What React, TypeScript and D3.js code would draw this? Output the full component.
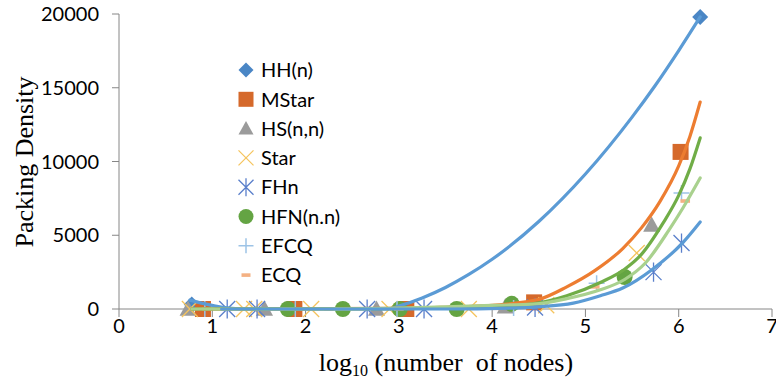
import { useEffect, useRef } from "react";
import * as d3 from "d3";

const W = 776;
const H = 385;

const xTicks = [0, 1, 2, 3, 4, 5, 6, 7];
const yTicks = [0, 5000, 10000, 15000, 20000];

// scatter values: [log10(nodes), packing density]
const hhPoints = [[0.78, 300], [6.23, 19800]];
const mstarPoints = [[0.9, 0], [1.88, 0], [3.08, 0], [4.45, 450], [6.02, 10650]];
const hsPoints = [[0.74, 0], [1.56, 0], [2.76, 0], [4.14, 150], [5.71, 5700]];
const starPoints = [[0.76, 0], [1.34, 0], [1.45, 0], [2.06, 0], [2.9, 0], [3.75, 0], [4.58, 250], [5.55, 3800]];
const fhnPoints = [[1.16, 0], [1.48, 0], [2.66, 0], [3.27, 0], [4.46, 100], [5.73, 2500], [6.03, 4470]];
const hfnPoints = [[1.81, 0], [2.4, 0], [3.01, 0], [3.62, 0], [4.21, 350], [5.42, 2170]];
const efcqPoints = [[0.92, 0], [1.89, 0], [2.98, 0], [4.23, 60], [5.12, 1750], [6.03, 7860]];
const ecqPoints = [[0.94, 0], [1.55, 0], [2.25, 0], [3.0, 0], [4.05, 50], [5.1, 1500], [6.07, 7320]];

// trend lines
const hhTrend = [[0.76, 600], [0.9, 380], [1.05, 180], [1.25, 20], [1.4, 0], [2.88, 0], [3.0, 200], [3.25, 750], [3.5, 1460], [3.75, 2340], [4.0, 3370], [4.5, 5930], [5.0, 9150], [5.5, 13010], [5.75, 15170], [6.0, 17520], [6.23, 19800]];
const mstarTrend = [[0.78, 0], [3.0, 40], [3.5, 120], [4.0, 250], [4.5, 650], [4.8, 1500], [5.1, 2600], [5.4, 4100], [5.6, 5500], [5.8, 7300], [6.0, 9700], [6.12, 11700], [6.23, 14030]];
const hfnTrend = [[0.78, 0], [3.0, 30], [3.5, 80], [4.0, 150], [4.44, 350], [4.8, 900], [5.16, 1800], [5.42, 2700], [5.6, 3700], [5.83, 5800], [6.0, 7700], [6.12, 9500], [6.23, 11600]];
const lightTrend = [[0.78, 0], [2.0, 0], [3.0, 60], [3.5, 150], [4.0, 250], [4.44, 330], [4.8, 700], [5.16, 1300], [5.42, 2000], [5.64, 3100], [5.9, 5400], [6.05, 6900], [6.23, 8880]];
const fhnTrend = [[1.1, 0], [3.5, 0], [4.2, 60], [4.5, 150], [4.87, 400], [5.16, 900], [5.4, 1420], [5.72, 2700], [6.04, 4470], [6.23, 5900]];

const legendNames = ["HH(n)", "MStar", "HS(n,n)", "Star", "FHn", "HFN(n.n)", "EFCQ", "ECQ"];

type Mark = "diamond" | "square" | "triangle" | "x" | "asterisk" | "circle" | "plus" | "dash";

const series: { points: number[][]; mark: Mark; color: string }[] = [
  { points: hhPoints, mark: "diamond", color: "#4a86c5" },
  { points: mstarPoints, mark: "square", color: "#d5692b" },
  { points: hsPoints, mark: "triangle", color: "#9b9b9b" },
  { points: starPoints, mark: "x", color: "#f5c45e" },
  { points: fhnPoints, mark: "asterisk", color: "#5a7fcb" },
  { points: hfnPoints, mark: "circle", color: "#64a443" },
  { points: efcqPoints, mark: "plus", color: "#9dc3e6" },
  { points: ecqPoints, mark: "dash", color: "#f4b183" },
];

const trends = [
  { points: hhTrend, color: "#5b9bd5" },
  { points: mstarTrend, color: "#ed7d31" },
  { points: hfnTrend, color: "#70ad47" },
  { points: lightTrend, color: "#a9d18e" },
  { points: fhnTrend, color: "#5b9bd5" },
];

function drawMark(g: d3.Selection<SVGGElement, unknown, null, undefined>, mark: Mark, color: string, s: number) {
  if (mark === "diamond") {
    g.append("path").attr("d", `M0,${-s}L${s},0L0,${s}L${-s},0Z`).attr("fill", color);
  } else if (mark === "square") {
    g.append("rect").attr("x", -s).attr("y", -s).attr("width", 2 * s).attr("height", 2 * s).attr("fill", color);
  } else if (mark === "triangle") {
    g.append("path").attr("d", `M0,${-s}L${s},${s * 0.8}L${-s},${s * 0.8}Z`).attr("fill", color);
  } else if (mark === "circle") {
    g.append("circle").attr("r", s).attr("fill", color);
  } else if (mark === "x") {
    g.append("path").attr("d", `M${-s},${-s}L${s},${s}M${-s},${s}L${s},${-s}`).attr("stroke", color).attr("stroke-width", 1.3);
  } else if (mark === "asterisk") {
    g.append("path").attr("d", `M${-s},${-s}L${s},${s}M${-s},${s}L${s},${-s}M0,${-s * 1.2}L0,${s * 1.2}`).attr("stroke", color).attr("stroke-width", 1.3);
  } else if (mark === "plus") {
    g.append("path").attr("d", `M${-s},0L${s},0M0,${-s}L0,${s}`).attr("stroke", color).attr("stroke-width", 1.5);
  } else {
    g.append("rect").attr("x", -s * 0.6).attr("y", -1.8).attr("width", s * 1.2).attr("height", 3.6).attr("fill", color);
  }
}

const markSize: Record<Mark, number> = { diamond: 8, square: 8, triangle: 8.5, x: 8, asterisk: 8, circle: 8, plus: 8, dash: 8 };

export default function App() {
  const svgRef = useRef<SVGSVGElement>(null);

  useEffect(() => {
    const svg = d3.select(svgRef.current);
    svg.selectAll("*").remove();

    const x = d3.scaleLinear().domain([0, 7]).range([119, 772]);
    const y = d3.scaleLinear().domain([0, 20000]).range([309, 14]);

    const axisColor = "#868686";
    const sans = "Lato, 'Open Sans', sans-serif";

    // axes
    svg.append("line").attr("x1", x(0)).attr("x2", x(0)).attr("y1", y(20000)).attr("y2", y(0)).attr("stroke", axisColor);
    svg.append("line").attr("x1", x(0)).attr("x2", x(7)).attr("y1", y(0)).attr("y2", y(0)).attr("stroke", axisColor);
    svg.append("g").selectAll("line").data(yTicks).join("line")
      .attr("x1", x(0) - 7).attr("x2", x(0)).attr("y1", (d) => y(d)).attr("y2", (d) => y(d)).attr("stroke", axisColor);
    svg.append("g").selectAll("line").data(xTicks).join("line")
      .attr("x1", (d) => x(d)).attr("x2", (d) => x(d)).attr("y1", y(0)).attr("y2", y(0) + 8).attr("stroke", axisColor);

    svg.append("g").selectAll("text").data(yTicks).join("text")
      .attr("x", 99).attr("y", (d) => y(d)).attr("dy", "0.36em").attr("text-anchor", "end")
      .attr("font-family", sans).attr("font-size", 20).attr("fill", "#000").text((d) => d);
    svg.append("g").selectAll("text").data(xTicks).join("text")
      .attr("x", (d) => x(d)).attr("y", 333).attr("text-anchor", "middle")
      .attr("font-family", sans).attr("font-size", 20).attr("fill", "#000").text((d) => d);

    // markers
    series.forEach((s) => {
      s.points.forEach(([px, py]) => {
        const g = svg.append("g").attr("transform", `translate(${x(px)},${y(py)})`);
        drawMark(g, s.mark, s.color, markSize[s.mark]);
      });
    });

    // trend lines
    const line = d3.line<number[]>().x((d) => x(d[0])).y((d) => y(d[1])).curve(d3.curveMonotoneX);
    trends.forEach((t) => {
      svg.append("path").attr("d", line(t.points)).attr("fill", "none").attr("stroke", t.color)
        .attr("stroke-width", 3.2).attr("stroke-linecap", "round");
    });

    // legend
    legendNames.forEach((name, i) => {
      const ly = 70 + i * 29.3;
      const g = svg.append("g").attr("transform", `translate(246,${ly})`);
      drawMark(g, series[i].mark, series[i].color, 7.5);
      svg.append("text").attr("x", 261).attr("y", ly).attr("dy", "0.36em")
        .attr("font-family", sans).attr("font-size", 20).attr("fill", "#000").text(name);
    });

    // axis titles
    const serif = "'Liberation Serif', 'Times New Roman', serif";
    svg.append("text").attr("transform", `translate(33,162) rotate(-90)`).attr("text-anchor", "middle")
      .attr("font-family", serif).attr("font-size", 26).attr("fill", "#000").text("Packing Density");
    const xt = svg.append("text").attr("x", 446).attr("y", 371).attr("text-anchor", "middle")
      .attr("font-family", serif).attr("font-size", 26).attr("fill", "#000");
    xt.append("tspan").text("log");
    xt.append("tspan").attr("font-size", 16).attr("dy", 5).text("10");
    xt.append("tspan").attr("dy", -5).text(" (number  of nodes)").attr("style", "white-space: pre");
  }, []);

  return (
    <svg ref={svgRef} width={W} height={H} style={{ position: "absolute", left: 0, top: 0, background: "#fff" }} />
  );
}
